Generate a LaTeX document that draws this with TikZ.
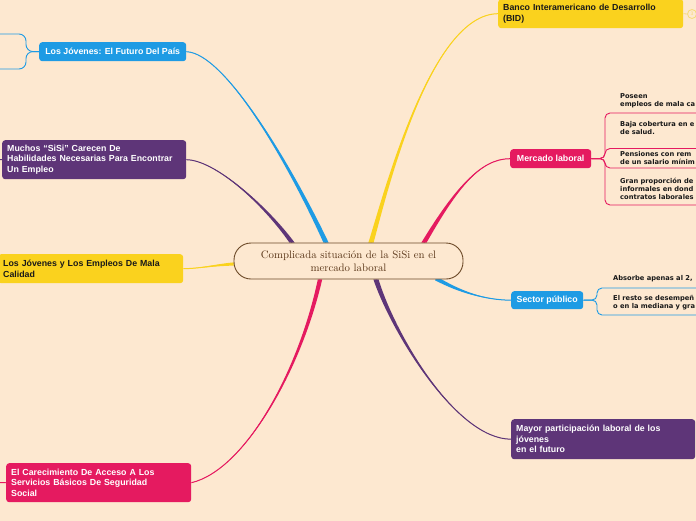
\documentclass[tikz,border=0pt]{standalone}
\usepackage{fontspec}
\newfontfamily\arialf{Liberation Sans}
\newfontfamily\verdf{DejaVu Sans}
\usetikzlibrary{calc,backgrounds}
\definecolor{bgc}{RGB}{253,232,208}
\definecolor{cblue}{RGB}{30,155,228}
\definecolor{cpurple}{RGB}{94,53,120}
\definecolor{cyellow}{RGB}{250,210,30}
\definecolor{cylight}{RGB}{246,218,120}
\definecolor{cred}{RGB}{229,26,96}
\definecolor{cbrown}{RGB}{107,72,38}
\definecolor{ctext}{RGB}{88,52,22}
\definecolor{tdark}{RGB}{25,25,25}
\tikzset{
  topicbox/.style={rounded corners=3pt, anchor=north west, inner xsep=5pt, inner ysep=0pt,
    align=left, font=\arialf\bfseries\fontsize{8.8}{10.5}\selectfont, text=white},
  subtext/.style={anchor=north west, inner sep=0pt, align=left,
    font=\verdf\bfseries\fontsize{6.7}{8}\selectfont, text=tdark},
  forkline/.style={line width=0.9pt, rounded corners=5pt},
  centerbox/.style={draw=cbrown, line width=0.9pt, fill=bgc, rounded corners=17pt,
    minimum width=229pt, minimum height=36pt, inner sep=0pt, align=center, text=ctext,
    font=\fontsize{10.8}{13.5}\selectfont}
}
\newcommand\taperbranch[6]{%
  \fill[#1] ($(#2)+(#3)$) .. controls ($(#4)+0.6*(#3)$) and (#5) .. (#6)
    .. controls (#5) and ($(#4)-0.6*(#3)$) .. ($(#2)-(#3)$) -- cycle;
  \draw[#1, line width=1pt] (#2) .. controls (#4) and (#5) .. (#6);}
\begin{document}
\begin{tikzpicture}[x=1pt,y=-1pt]
\useasboundingbox (0,0) rectangle (696,520);
% central topic
\node[centerbox] (cen) at (348.5,261) {Complicada situación de la SiSi en el\\mercado laboral};
% main topics
\node[topicbox, fill=cblue, minimum width=147pt, minimum height=19pt, align=center] (jov) at (39,42) {Los Jóvenes: El Futuro Del País};
\node[topicbox, fill=cpurple, minimum width=184pt, minimum height=39pt, text width=174pt] (muc) at (2,140) {Muchos “SiSi” Carecen De\\Habilidades Necesarias Para Encontrar\\Un Empleo};
\node[topicbox, fill=cyellow, text=tdark, minimum width=185pt, minimum height=29pt, text width=175pt] (cal) at (-2,254) {Los Jóvenes y Los Empleos De Mala\\Calidad};
\node[topicbox, fill=cred, minimum width=185pt, minimum height=39pt, text width=175pt] (car) at (6,463) {El Carecimiento De Acceso A Los\\Servicios Básicos De Seguridad\\Social};
\node[topicbox, fill=cyellow, text=tdark, minimum width=185pt, minimum height=29pt, text width=175pt] (ban) at (498,-1) {Banco Interamericano de Desarrollo\\(BID)};
\node[topicbox, fill=cred, minimum width=81pt, minimum height=19pt, align=center] (mer) at (510,149) {Mercado laboral};
\node[topicbox, fill=cblue, minimum width=72pt, minimum height=18pt, align=center] (sec) at (511,291) {Sector público};
\node[topicbox, fill=cpurple, minimum width=184pt, minimum height=40pt, text width=174pt] (may) at (511,419) {Mayor participación laboral de los\\jóvenes\\en el futuro};
% collapsed marker of Banco
\node[circle, draw=cylight, fill=bgc, line width=0.8pt, inner sep=0pt, minimum size=9pt, text=cylight,
  font=\arialf\fontsize{5}{5}\selectfont] (bmk) at (692,14) {3};
\draw[cylight, line width=0.8pt] (ban.east) -- (bmk.west);
% subtopic texts
\node[subtext] (m1) at (620,93) {Poseen\\empleos de mala ca};
\node[subtext] (m2) at (620,121.5) {Baja cobertura en e\\de salud.};
\node[subtext] (m3) at (620,151) {Pensiones con rem\\de un salario mínim};
\node[subtext] (m4) at (620,177.5) {Gran proporción de\\informales en dond\\contratos laborales};
\node[subtext] (s1) at (613,275.5) {Absorbe apenas al 2,};
\node[subtext] (s2) at (613,295) {El resto se desempeñ\\o en la mediana y gra};
% fork lines
\coordinate (mfork) at (605,158.5);
\draw[cred, forkline] (mer.east) -- (mfork) |- (700,113);
\draw[cred, forkline] (mer.east) -- (mfork) |- (700,148.5);
\draw[cred, forkline] (mer.east) -- (mfork) |- (700,168);
\draw[cred, forkline] (mer.east) -- (mfork) |- (700,205);
\coordinate (sfork) at (597,300);
\draw[cblue, forkline] (sec.east) -- (sfork) |- (700,288);
\draw[cblue, forkline] (sec.east) -- (sfork) |- (700,315);
\coordinate (jfork) at (26,51.5);
\draw[cblue, forkline, rounded corners=7pt] (jov.west) -- (jfork) |- (-5,34);
\draw[cblue, forkline, rounded corners=7pt] (jov.west) -- (jfork) |- (-5,69);
\coordinate (cstub) at (-5,482.5);
\draw[cred, line width=0.9pt] (car.west) -- (cstub);
\coordinate (pstub) at (-5,159.5);
\draw[cpurple, line width=0.9pt] (muc.west) -- (pstub);
% branches (under everything)
\begin{pgfonlayer}{background}
\fill[bgc] (-5,-5) rectangle (701,525);
\coordinate (bjov) at ($(cen.north)+(-22.5,0)$);
\coordinate (bmuc) at ($(cen.north)+(-56.5,0)$);
\coordinate (bban) at ($(cen.north)+(22.5,0)$);
\coordinate (bmer) at ($(cen.north)+(75.5,0)$);
\coordinate (bcal) at ($(cen.west)+(0,3)$);
\coordinate (bcar) at ($(cen.south)+(-28.5,0)$);
\coordinate (bmay) at ($(cen.south)+(27.5,0)$);
\coordinate (bsec) at ($(cen.south)+(87.5,-1)$);
\taperbranch{cblue}{bjov}{2.6,0}{290,165}{225,53}{jov.east}
\taperbranch{cpurple}{bmuc}{2.6,0}{265,205}{215,160}{muc.east}
\taperbranch{cyellow}{bban}{2.6,0}{385,195}{430,14}{ban.west}
\taperbranch{cred}{bmer}{2.6,0}{455,190}{480,158.5}{mer.west}
\taperbranch{cyellow}{bcal}{0,1.6}{215,265}{200,268.5}{cal.east}
\taperbranch{cred}{bcar}{2.2,0}{300,370}{245,470}{car.east}
\taperbranch{cpurple}{bmay}{2.6,0}{392,330}{455,439}{may.west}
\taperbranch{cblue}{bsec}{-1,1.8}{460,292}{485,300}{sec.west}
\end{pgfonlayer}
\end{tikzpicture}
\end{document}
